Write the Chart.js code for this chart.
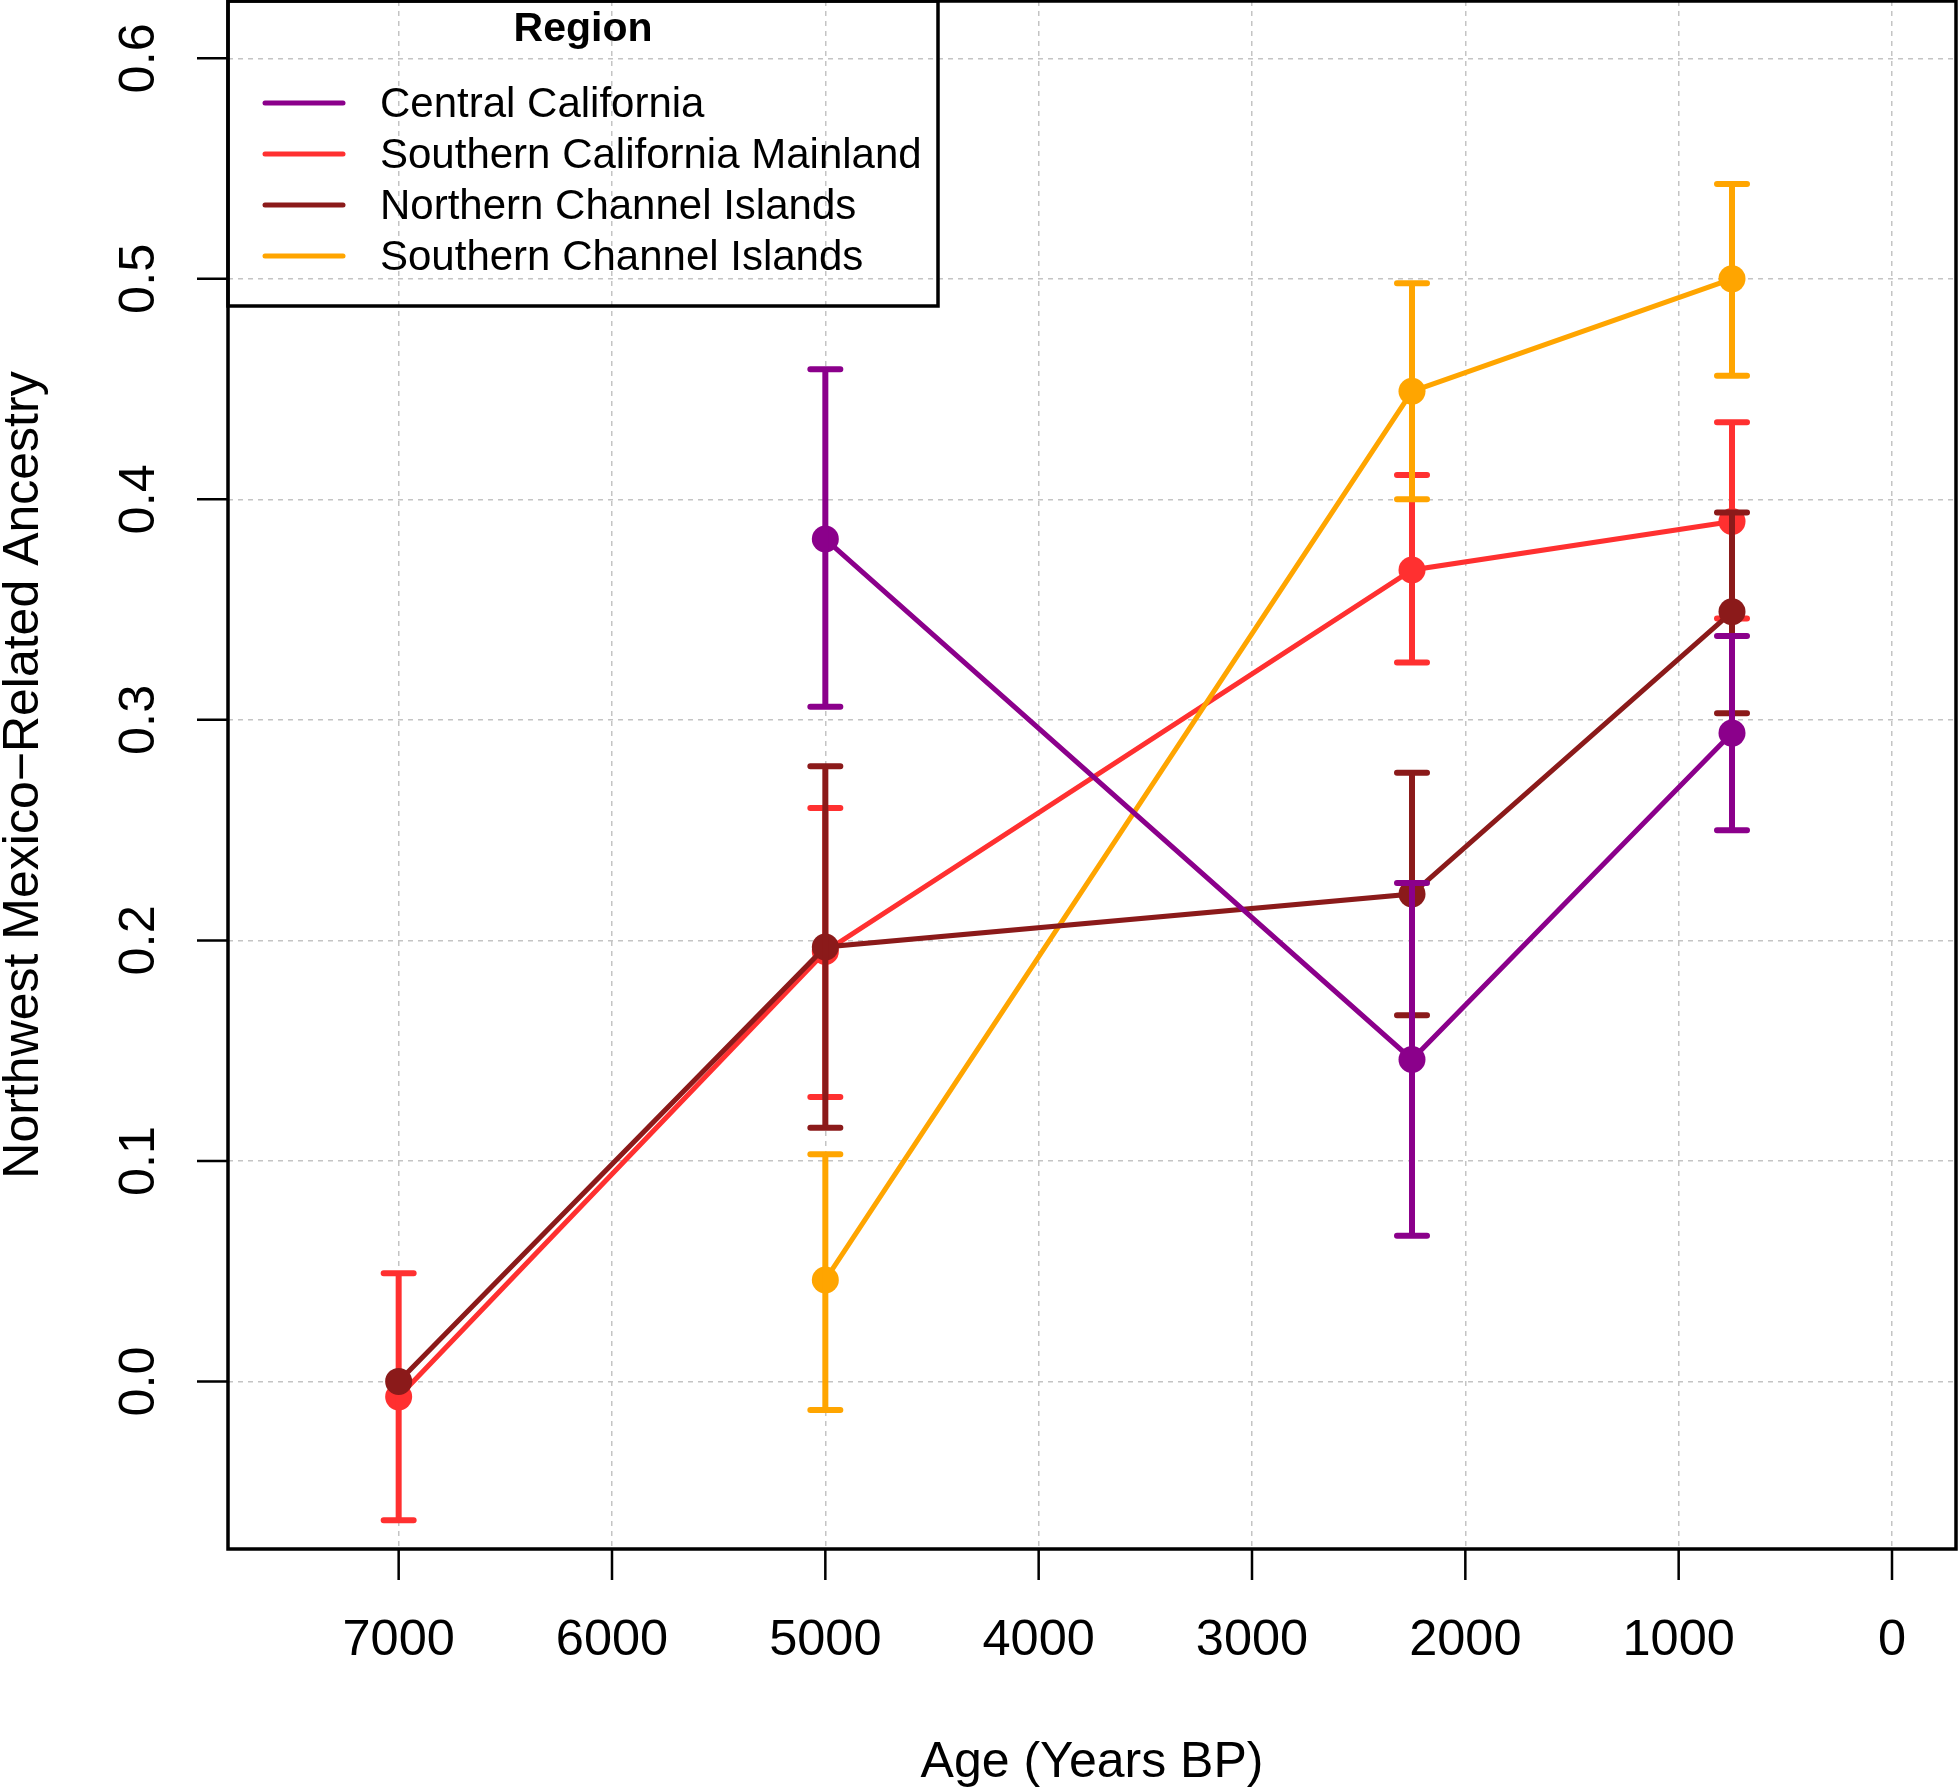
<!DOCTYPE html>
<html>
<head>
<meta charset="utf-8">
<title>Northwest Mexico-Related Ancestry by Region</title>
<script src="https://cdn.jsdelivr.net/npm/chart.js@4.4.1/dist/chart.umd.min.js"></script>
<style>
  html, body { margin: 0; padding: 0; background: #fff; }
  canvas { display: block; }
</style>
</head>
<body>
<canvas id="chart" width="1958" height="1787" style="width:1958px;height:1787px"></canvas>
<script>
// sample ages (years BP)
const ages = [7000, 5000, 2250, 750];

const regions = ["Central California", "Southern California Mainland", "Northern Channel Islands", "Southern Channel Islands"];
const regionColors = ["#8B008B", "#FF3030", "#8B1A1A", "#FFA500"];

// point estimates and error bar ends, null = no sample
const centralMean  = [null, 0.382, 0.146, 0.294];
const centralLow   = [null, 0.306, 0.066, 0.250];
const centralHigh  = [null, 0.459, 0.226, 0.338];

const socalMean    = [-0.007, 0.195, 0.368, 0.390];
const socalLow     = [-0.063, 0.129, 0.326, 0.346];
const socalHigh    = [0.049, 0.260, 0.411, 0.435];

const northMean    = [0.000, 0.197, 0.221, 0.349];
const northLow     = [null, 0.115, 0.166, 0.303];
const northHigh    = [null, 0.279, 0.276, 0.394];

const southMean    = [null, 0.046, 0.449, 0.500];
const southLow     = [null, -0.013, 0.400, 0.456];
const southHigh    = [null, 0.103, 0.498, 0.543];

const xTicks = [7000, 6000, 5000, 4000, 3000, 2000, 1000, 0];
const yTicks = [0, 0.1, 0.2, 0.3, 0.4, 0.5, 0.6];
const yTickLabels = ["0.0", "0.1", "0.2", "0.3", "0.4", "0.5", "0.6"];

const xTitle = "Age (Years BP)";
const yTitle = "Northwest Mexico\u2212Related Ancestry";
const legendTitle = "Region";

const FONT = '"Liberation Sans", Arial, Helvetica, sans-serif';
const means = [centralMean, socalMean, northMean, southMean];
const lows = [centralLow, socalLow, northLow, southLow];
const highs = [centralHigh, socalHigh, northHigh, southHigh];
// purple on top, red at the bottom
const drawOrder = [0, 3, 1, 2];

const toPoints = vals => ages.map((a, i) => ({ x: a, y: vals[i] })).filter(p => p.y !== null);

const datasets = regions.map((name, k) => ({
  label: name,
  data: toPoints(means[k]),
  borderColor: regionColors[k],
  backgroundColor: regionColors[k],
  pointBackgroundColor: regionColors[k],
  borderWidth: 5,
  pointRadius: 13.5,
  pointHoverRadius: 13.5,
  pointBorderWidth: 0,
  tension: 0,
  order: drawOrder[k]
}));

const errorBars = {
  id: "errorBars",
  afterDatasetDraw(chart, args) {
    const k = args.index;
    const { ctx, scales: { x, y } } = chart;
    ctx.save();
    ctx.strokeStyle = regionColors[k];
    ctx.lineWidth = 6;
    ctx.lineCap = "round";
    ages.forEach((a, i) => {
      if (lows[k][i] === null) return;
      const px = x.getPixelForValue(a);
      const lo = y.getPixelForValue(lows[k][i]);
      const hi = y.getPixelForValue(highs[k][i]);
      ctx.beginPath();
      ctx.moveTo(px, lo); ctx.lineTo(px, hi);
      ctx.moveTo(px - 15, lo); ctx.lineTo(px + 15, lo);
      ctx.moveTo(px - 15, hi); ctx.lineTo(px + 15, hi);
      ctx.stroke();
    });
    ctx.restore();
  }
};

const rFrame = {
  id: "rFrame",
  afterDraw(chart) {
    const { ctx, chartArea: a, scales: { x, y } } = chart;
    ctx.save();
    ctx.strokeStyle = "#000";
    ctx.fillStyle = "#000";

    // tick marks
    ctx.lineWidth = 2.5;
    ctx.beginPath();
    xTicks.forEach(v => {
      const px = x.getPixelForValue(v);
      ctx.moveTo(px, a.bottom); ctx.lineTo(px, a.bottom + 31);
    });
    yTicks.forEach(v => {
      const py = y.getPixelForValue(v);
      ctx.moveTo(a.left, py); ctx.lineTo(a.left - 31, py);
    });
    ctx.stroke();

    // plot box
    ctx.lineWidth = 3.5;
    ctx.strokeRect(a.left, a.top, a.right - a.left, a.bottom - a.top);

    // tick labels
    ctx.font = `50.5px ${FONT}`;
    ctx.textAlign = "center";
    ctx.textBaseline = "middle";
    xTicks.forEach(v => ctx.fillText(String(v), x.getPixelForValue(v), a.bottom + 92));
    yTicks.forEach((v, i) => {
      ctx.save();
      ctx.translate(a.left - 88, y.getPixelForValue(v));
      ctx.rotate(-Math.PI / 2);
      ctx.fillText(yTickLabels[i], 0, 0);
      ctx.restore();
    });

    // axis titles
    ctx.font = `50px ${FONT}`;
    ctx.fillText(xTitle, (a.left + a.right) / 2, a.bottom + 214);
    ctx.save();
    ctx.translate(24, (a.top + a.bottom) / 2);
    ctx.rotate(-Math.PI / 2);
    ctx.fillText(yTitle, 0, 0);
    ctx.restore();

    // legend
    const lx = a.left, ly = a.top, lw = 710, lh = 305;
    ctx.lineWidth = 3.5;
    ctx.strokeRect(lx, ly, lw, lh);
    ctx.font = `bold 41px ${FONT}`;
    ctx.fillText(legendTitle, lx + lw / 2, ly + 29);
    ctx.font = `42px ${FONT}`;
    ctx.textAlign = "left";
    regions.forEach((name, k) => {
      const ry = ly + 102 + k * 51;
      ctx.strokeStyle = regionColors[k];
      ctx.lineWidth = 5;
      ctx.lineCap = "round";
      ctx.beginPath();
      ctx.moveTo(lx + 37, ry); ctx.lineTo(lx + 115, ry);
      ctx.stroke();
      ctx.fillText(name, lx + 152, ry + 2);
    });
    ctx.restore();
  }
};

const gridOpts = {
  color: "#c4c4c4",
  lineWidth: 1.5,
  drawTicks: false,
  borderDash: [5, 5]
};

new Chart(document.getElementById("chart").getContext("2d"), {
  type: "line",
  data: { datasets },
  options: {
    responsive: false,
    devicePixelRatio: 1,
    animation: false,
    layout: { autoPadding: false, padding: { top: 1, right: 2, left: 0, bottom: 0 } },
    plugins: { legend: { display: false }, tooltip: { enabled: false } },
    events: [],
    scales: {
      x: {
        type: "linear",
        reverse: true,
        min: -300,
        max: 7800,
        afterBuildTicks: s => { s.ticks = xTicks.map(v => ({ value: v })); },
        afterFit: s => { s.height = 238; },
        ticks: { display: false },
        grid: gridOpts,
        border: { display: false, dash: [5, 5] }
      },
      y: {
        type: "linear",
        min: -0.076,
        max: 0.626,
        afterBuildTicks: s => { s.ticks = yTicks.map(v => ({ value: v })); },
        afterFit: s => { s.width = 228; },
        ticks: { display: false },
        grid: gridOpts,
        border: { display: false, dash: [5, 5] }
      }
    }
  },
  plugins: [errorBars, rFrame]
});
</script>
</body>
</html>
